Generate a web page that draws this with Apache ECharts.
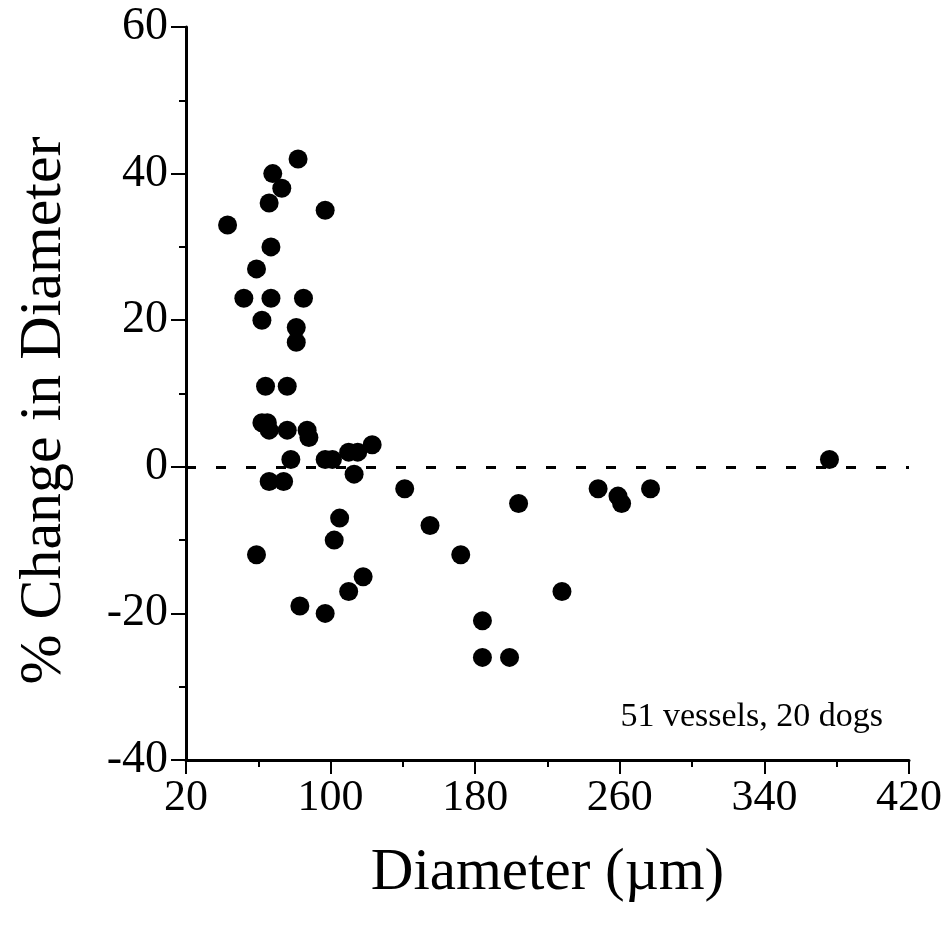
<!DOCTYPE html>
<html><head><meta charset="utf-8">
<script src="https://cdn.jsdelivr.net/npm/echarts@6/dist/echarts.min.js"></script>
<style>html,body{margin:0;padding:0;background:#fff}#c{width:945px;height:930px}</style>
</head><body><div id="c"></div>
<script>
// Vessel diameter (µm)
const diameters = [82, 68, 73, 66, 97, 43, 67, 59, 52, 67, 85, 62, 81, 81,
  64, 76, 62, 65, 66, 76, 87, 88, 78, 97, 101, 110, 115, 123, 66, 74, 113,
  105, 102, 59, 118, 110, 83, 97,
  141, 155, 172, 204, 184, 184, 199, 228,
  248, 259, 261, 277, 376];
// % change in diameter
const changes = [42, 40, 38, 36, 35, 33, 30, 27, 23, 23, 23, 20, 19, 17,
  11, 11, 6, 6, 5, 5, 5, 4, 1, 1, 1, 2, 2, 3, -2, -2, -1,
  -7, -10, -12, -15, -17, -19, -20,
  -3, -8, -12, -5, -21, -26, -26, -17,
  -3, -4, -5, -3, 1];
const xRange = [20, 420];
const xStep = 80;
const yRange = [-40, 60];
const yStep = 20;
const refValue = 0;
const xTitle = 'Diameter (\u00b5m)';
const yTitle = '% Change in Diameter';
const note = '51 vessels, 20 dogs';

const points = diameters.map((d, i) => [d, changes[i]]);
const font = '"Liberation Serif", "DejaVu Serif", serif';
const chart = echarts.init(document.getElementById('c'), null, {renderer: 'canvas'});
chart.setOption({
  animation: false,
  backgroundColor: '#fff',
  grid: {left: 186, top: 27, right: 34, bottom: 170, containLabel: false},
  xAxis: {
    type: 'value', min: xRange[0], max: xRange[1], interval: xStep,
    name: xTitle, nameLocation: 'middle', nameGap: 84,
    nameTextStyle: {fontFamily: font, fontSize: 59, color: '#000'},
    axisLine: {onZero: false, lineStyle: {color: '#000', width: 3}},
    axisTick: {length: 14, lineStyle: {color: '#000', width: 2}},
    minorTick: {show: true, splitNumber: 2, length: 7, lineStyle: {color: '#000', width: 2}},
    axisLabel: {fontFamily: font, fontSize: 44, color: '#000', margin: 16},
    splitLine: {show: false}
  },
  yAxis: {
    type: 'value', min: yRange[0], max: yRange[1], interval: yStep,
    name: yTitle, nameLocation: 'middle', nameGap: 112,
    nameTextStyle: {fontFamily: font, fontSize: 60, color: '#000', padding: [0, 34, 0, 0]},
    axisLine: {onZero: false, lineStyle: {color: '#000', width: 3}},
    axisTick: {length: 15, lineStyle: {color: '#000', width: 2}},
    minorTick: {show: true, splitNumber: 2, length: 7, lineStyle: {color: '#000', width: 2}},
    axisLabel: {fontFamily: font, fontSize: 46, color: '#000', margin: 18},
    splitLine: {show: false}
  },
  graphic: [{
    type: 'text', right: 62, top: 700, z: 10,
    style: {text: note, font: '34px ' + font, fill: '#000'}
  }],
  series: [{
    type: 'scatter', data: points, symbol: 'circle', symbolSize: 19,
    itemStyle: {color: '#000', opacity: 1}, z: 3,
    markLine: {
      silent: true, symbol: 'none', animation: false,
      label: {show: false},
      lineStyle: {type: [10, 20], width: 3, color: '#000'},
      data: [{yAxis: refValue}]
    }
  }]
});
</script></body></html>
